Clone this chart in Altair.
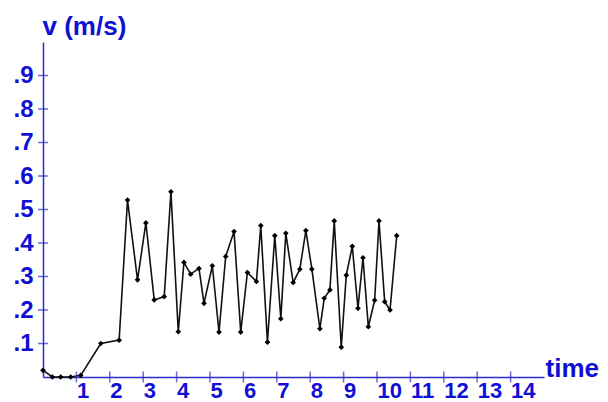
import altair as alt
import pandas as pd

# data
t = [0, 0.28, 0.53, 0.83, 1.13, 1.73, 2.28, 2.53, 2.83, 3.08, 3.33, 3.63, 3.83,
     4.05, 4.22, 4.42, 4.67, 4.82, 5.07, 5.27, 5.47, 5.72, 5.92, 6.12, 6.39,
     6.52, 6.72, 6.94, 7.12, 7.27, 7.49, 7.69, 7.87, 8.05, 8.29, 8.42, 8.59,
     8.72, 8.93, 9.08, 9.26, 9.43, 9.58, 9.74, 9.93, 10.06, 10.23, 10.39, 10.59]
v = [0.02, 0.0, 0.0, 0.0, 0.005, 0.10, 0.11, 0.528, 0.29, 0.46, 0.23, 0.24, 0.553,
     0.135, 0.342, 0.307, 0.324, 0.22, 0.332, 0.134, 0.36, 0.434, 0.134, 0.312, 0.285,
     0.452, 0.104, 0.422, 0.174, 0.429, 0.282, 0.322, 0.437, 0.322, 0.144, 0.235, 0.26,
     0.466, 0.089, 0.304, 0.39, 0.205, 0.356, 0.15, 0.229, 0.466, 0.225, 0.2, 0.422]
x_ticks = list(range(1, 15))
y_ticks = [0.1, 0.2, 0.3, 0.4, 0.5, 0.6, 0.7, 0.8, 0.9]

BLUE_TXT = "#1010d4"
BLUE_LN = "#2c2cc8"
FONT = "Liberation Sans"

df = pd.DataFrame({"t": t, "v": v})
xt = pd.DataFrame({"t": x_ticks, "v": [0] * len(x_ticks)})
yt = pd.DataFrame({"t": [0] * len(y_ticks), "v": y_ticks})

xscale = alt.Scale(domain=[0, 15], nice=False, zero=False)
yscale = alt.Scale(domain=[0, 1], nice=False, zero=False)

xaxis = alt.Axis(values=x_ticks, format="d", grid=False, ticks=False, tickSize=0,
                 domainColor=BLUE_LN, domainWidth=1.5,
                 labelColor=BLUE_TXT, labelFont=FONT, labelFontSize=22,
                 labelFontWeight="bold", labelAlign="left", labelBaseline="top",
                 labelPadding=3, labelOverlap=False, labelBound=False,
                 title="time", titleColor=BLUE_TXT, titleFont=FONT,
                 titleFontSize=26, titleFontWeight="bold", titleAngle=0,
                 titleAlign="left", titleBaseline="alphabetic",
                 titleX=502, titleY=-1)
yaxis = alt.Axis(values=y_ticks, labelExpr="'.' + round(datum.value*10)",
                 grid=False, ticks=False, tickSize=0,
                 domainColor=BLUE_LN, domainWidth=1.5,
                 labelColor=BLUE_TXT, labelFont=FONT, labelFontSize=24,
                 labelFontWeight="bold", labelAlign="right", labelBaseline="middle",
                 labelPadding=10, labelOverlap=False,
                 title="v (m/s)", titleColor=BLUE_TXT, titleFont=FONT,
                 titleFontSize=26, titleFontWeight="bold", titleAngle=0,
                 titleAlign="left", titleBaseline="alphabetic",
                 titleX=-1, titleY=-8)

X = alt.X("t:Q", scale=xscale, axis=xaxis)
Y = alt.Y("v:Q", scale=yscale, axis=yaxis)

line = alt.Chart(df).mark_line(color="#111111", strokeWidth=1.6).encode(x=X, y=Y)
pts = alt.Chart(df).mark_point(filled=True, color="#000000", size=32,
                               shape="diamond", opacity=1).encode(x=X, y=Y)
xtick = alt.Chart(xt).mark_tick(orient="vertical", size=11, thickness=1.5,
                                color=BLUE_LN).encode(x=X, y=Y)
ytick = alt.Chart(yt).mark_tick(orient="horizontal", size=10, thickness=1.5,
                                color=BLUE_LN).encode(x=X, y=Y)

chart = alt.layer(line, pts, xtick, ytick).properties(
    width=501, height=335,
    autosize=alt.AutoSizeParams(type="none"),
    padding={"left": 43, "top": 42, "right": 64, "bottom": 25},
    background="white",
).configure_view(stroke=None).configure_axisX(labelOverlap=False)

chart.save("out.html", embed_options={"renderer": "svg", "actions": False})
